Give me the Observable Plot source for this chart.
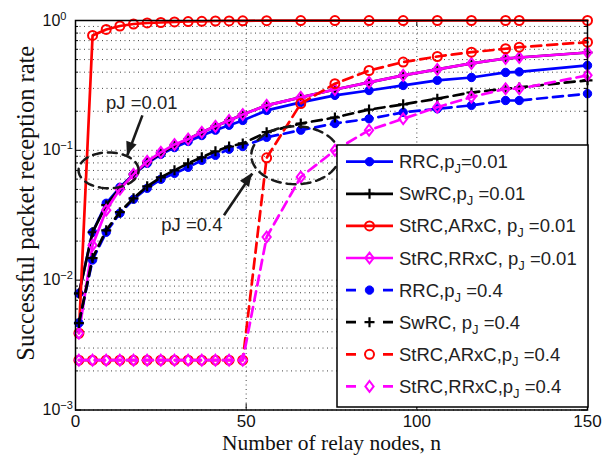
<!DOCTYPE html>
<html><head><meta charset="utf-8">
<script src="https://cdn.jsdelivr.net/npm/d3@7"></script>
<script src="https://cdn.jsdelivr.net/npm/@observablehq/plot@0.6"></script>
<style>body{margin:0;background:#fff}</style>
</head><body><div id="chart"></div>
<script>
// ---- data ----
const nodes = [1,5,9,13,17,21,25,29,33,37,41,45,49,56,66,76,86,96,106,116,126,130,150];
const rrc001  = [0.0079,0.0234,0.0391,0.0519,0.0653,0.0794,0.0932,0.105,0.117,0.130,0.143,0.156,0.170,0.203,0.234,0.265,0.289,0.316,0.346,0.364,0.398,0.402,0.451];
const swrc001 = [0.0079,0.0234,0.0378,0.0510,0.0653,0.0809,0.0948,0.109,0.122,0.138,0.153,0.170,0.189,0.222,0.256,0.294,0.334,0.378,0.420,0.467,0.510,0.519,0.567];
const arxc001 = [0.0039,0.767,0.853,0.907,0.940,0.957,0.965,0.974,0.982,0.985,0.991,0.993,0.995,0.997,0.998,0.999,0.999,0.999,1,1,1,1,1];
const rrxc001 = [0.0039,0.0186,0.0346,0.0501,0.0653,0.0823,0.0965,0.111,0.122,0.138,0.153,0.170,0.189,0.222,0.256,0.294,0.334,0.378,0.420,0.467,0.510,0.519,0.567];
const rrc04   = [0.00467,0.0143,0.0234,0.0328,0.0420,0.0510,0.0598,0.0665,0.0740,0.0838,0.0915,0.102,0.107,0.126,0.143,0.161,0.175,0.196,0.209,0.222,0.242,0.242,0.273];
const swrc04  = [0.00467,0.0148,0.0242,0.0334,0.0427,0.0528,0.0620,0.0702,0.0794,0.0884,0.0982,0.107,0.113,0.138,0.161,0.179,0.206,0.226,0.250,0.279,0.298,0.305,0.346];
const arxc04  = [0.00242,0.00242,0.00242,0.00242,0.00242,0.00242,0.00242,0.00242,0.00242,0.00242,0.00242,0.00242,0.00242,0.0876,0.229,0.326,0.412,0.478,0.528,0.570,0.606,0.623,0.681];
const rrxc04  = [0.00242,0.00242,0.00242,0.00242,0.00242,0.00242,0.00242,0.00242,0.00242,0.00242,0.00242,0.00242,0.00242,0.0215,0.0623,0.100,0.143,0.175,0.215,0.257,0.298,0.298,0.378];

const seriesValues = [rrc001, swrc001, arxc001, rrxc001, rrc04, swrc04, arxc04, rrxc04];
const legendLabels = [
  ["RRC,p","J","=0.01"],
  ["SwRC,p","J"," =0.01"],
  ["StRC,ARxC, p","J"," =0.01"],
  ["StRC,RRxC, p","J"," =0.01"],
  ["RRC,p","J"," =0.4"],
  ["SwRC, p","J"," =0.4"],
  ["StRC,ARxC,p","J"," =0.4"],
  ["StRC,RRxC,p","J"," =0.4"]
];
const xTicks = [0, 50, 100, 150];
const yTicks = [0.001, 0.01, 0.1, 1];
const xLabel = "Number of relay nodes, n";
const yLabel = "Successful packet reception rate";
const annotations = [
  {n: 19.4, v: 0.23, text: "pJ =0.01"},
  {n: 34.1, v: 0.0265, text: "pJ =0.4"}
];
const arrows = [
  {x1: 19.6, y1: 0.186, x2: 15.2, y2: 0.0916},
  {x1: 43.5, y1: 0.0316, x2: 51.8, y2: 0.0662}
];
// ellipse annotations: centre n, centre log10(v), radius in n, radius in decades
const ellipses = [
  {cx: 9.7, cy: -1.154, rx: 8.8, ry: 0.138},
  {cx: 64.4, cy: -1.038, rx: 12.9, ry: 0.223}
];

// ---- styles ----
const diamond = {draw(ctx, size){ const r = Math.sqrt(size/Math.PI); const h = r*1.2, w = r*0.92;
  ctx.moveTo(0,-h); ctx.lineTo(w,0); ctx.lineTo(0,h); ctx.lineTo(-w,0); ctx.closePath(); }};
const plus = {draw(ctx, size){ const r = Math.sqrt(size/Math.PI);
  ctx.moveTo(-r,0); ctx.lineTo(r,0); ctx.moveTo(0,-r); ctx.lineTo(0,r); }};
const styles = [
  {color:"#0000ff", dash:null,   symbol:"circle", fill:"#0000ff", r:4.2, sw:1},
  {color:"#000000", dash:null,   symbol:plus,     fill:"none",    r:5,   sw:2.2},
  {color:"#ff0000", dash:null,   symbol:"circle", fill:"none",    r:4.5, sw:2},
  {color:"#ff00ff", dash:null,   symbol:diamond,  fill:"none",    r:4.5, sw:2},
  {color:"#0000ff", dash:"10,6", symbol:"circle", fill:"#0000ff", r:4.2, sw:1},
  {color:"#000000", dash:"10,6", symbol:plus,     fill:"none",    r:5,   sw:2.2},
  {color:"#ff0000", dash:"10,6", symbol:"circle", fill:"none",    r:4.5, sw:2},
  {color:"#ff00ff", dash:"10,6", symbol:diamond,  fill:"none",    r:4.5, sw:2}
];

const W = 616, H = 455, mL = 75, mR = 29, mT = 20, mB = 45.5;
const plotW = W - mL - mR, plotH = H - mT - mB;

const mantissas = [1,2,3,4,5,6,7,8,9];
const gridY = [];
for (const d of [-3,-2,-1]) for (const m of mantissas) gridY.push(m*Math.pow(10,d));
gridY.push(1);
const minorY = gridY.filter(v => !yTicks.some(t => Math.abs(t - v) < 1e-12));

const ellipsePts = [];
ellipses.forEach((e, k) => {
  for (let i = 0; i <= 72; i++) {
    const t = i/72*2*Math.PI;
    ellipsePts.push({k, n: e.cx + e.rx*Math.cos(t), v: Math.pow(10, e.cy + e.ry*Math.sin(t))});
  }
});

const marks = [
  Plot.ruleY(gridY, {stroke:"#444", strokeWidth:1, strokeDasharray:"1,3.5"}),
  Plot.ruleX([50, 100], {stroke:"#444", strokeWidth:1, strokeDasharray:"1,3.5"}),
  // inward ticks
  Plot.tickY(yTicks, {y: d => d, insetRight: plotW - 6, stroke:"black"}),
  Plot.tickY(yTicks, {y: d => d, insetLeft: plotW - 6, stroke:"black"}),
  Plot.tickY(minorY, {y: d => d, insetRight: plotW - 3, stroke:"black"}),
  Plot.tickY(minorY, {y: d => d, insetLeft: plotW - 3, stroke:"black"}),
  Plot.tickX(xTicks, {x: d => d, insetTop: plotH - 6, stroke:"black"}),
  Plot.tickX(xTicks, {x: d => d, insetBottom: plotH - 6, stroke:"black"}),
  Plot.axisX({ticks: xTicks, tickSize: 0, tickPadding: 5, label: null, fontSize: 17}),
  Plot.axisY({ticks: yTicks, tickSize: 0, tickPadding: 6, label: null, fontSize: 16,
    tickFormat: d => String(Math.round(Math.log10(d))).replace("-", "\u2212")}),
  Plot.text([xLabel], {frameAnchor: "bottom", lineAnchor: "middle", textAnchor: "middle", dy: 33,
    fontFamily: "Liberation Serif", fontSize: 21.5, fill:"#111"}),
  Plot.text([yLabel], {frameAnchor: "left", textAnchor: "middle", lineAnchor: "middle", rotate: -90, dx: -49, dy: -12,
    fontFamily: "Liberation Serif", fontSize: 24.5, fill:"#111"})
];

seriesValues.forEach((vals, i) => {
  const s = styles[i];
  const rows = nodes.map((n, j) => ({n, v: vals[j]}));
  marks.push(Plot.line(rows, {x:"n", y:"v", stroke:s.color, strokeWidth:2.7, strokeDasharray:s.dash}));
  marks.push(Plot.dot(rows, {x:"n", y:"v", symbol:s.symbol, r:s.r, stroke:s.color, fill:s.fill, strokeWidth:s.sw}));
});

marks.push(
  Plot.line(ellipsePts, {x:"n", y:"v", z:"k", stroke:"#1a1a1a", strokeWidth:2.5, strokeDasharray:"9,6"}),
  Plot.link(arrows, {x1:"x1", y1:"y1", x2:"x2", y2:"y2", stroke:"#1a1a1a", strokeWidth:2.6}),
  Plot.text(annotations, {x:"n", y:"v", text:"text", fontSize:18.5, fill:"#222"}),
  Plot.frame({stroke:"black", strokeWidth:1.5})
);

const chart = Plot.plot({
  width: W, height: H, marginLeft: mL, marginRight: mR, marginTop: mT, marginBottom: mB,
  x: {domain: [0, 150]},
  y: {type: "log", domain: [0.001, 1]},
  style: {fontFamily: "Liberation Sans, Arial, sans-serif", fontSize: "16px", color: "#111", background: "white"},
  marks
});
document.getElementById("chart").appendChild(chart);

const svg = d3.select(chart);
const xs = chart.scale("x"), ys = chart.scale("y");

// filled arrow heads at the arrow tips, placed through the plot's scales
arrows.forEach(a => {
  const px1 = xs.apply(a.x1), py1 = ys.apply(a.y1), px2 = xs.apply(a.x2), py2 = ys.apply(a.y2);
  const ang = Math.atan2(py2 - py1, px2 - px1) * 180 / Math.PI;
  svg.append("path").attr("transform", `translate(${px2},${py2}) rotate(${ang})`)
    .attr("d", "M0,0L-13,-5.5L-13,5.5Z").attr("fill", "#1a1a1a");
});

// y tick labels as 10^k with superscript
svg.selectAll('[aria-label="y-axis tick label"] text').each(function() {
  const t = d3.select(this);
  const exp = t.text();
  t.text(null).attr("text-anchor", "start").attr("x", -27);
  t.append("tspan").text("10");
  t.append("tspan").attr("dy", "-0.55em").attr("font-size", "11px").text(exp);
});

// legend (inside the axes, bottom right)
const lg = svg.append("g").attr("font-family", "Liberation Sans, Arial, sans-serif").attr("text-anchor", "start");
lg.append("rect").attr("x", 337).attr("y", 145).attr("width", 251).attr("height", 262)
  .attr("fill", "white").attr("stroke", "black").attr("stroke-width", 1.5);
legendLabels.forEach((lab, i) => {
  const s = styles[i];
  const cy = 161.7 + 32.1*i;
  lg.append("line").attr("x1", 346).attr("x2", 393).attr("y1", cy).attr("y2", cy)
    .attr("stroke", s.color).attr("stroke-width", 2.7)
    .attr("stroke-dasharray", s.dash ? "10,27" : null);
  const sym = s.symbol === "circle" ? d3.symbolCircle : s.symbol;
  lg.append("path").attr("transform", `translate(369.5,${cy})`)
    .attr("d", d3.symbol(sym, Math.PI*s.r*s.r)())
    .attr("fill", s.fill).attr("stroke", s.color).attr("stroke-width", s.sw);
  const tx = lg.append("text").attr("x", 399).attr("y", cy + 6.5).attr("font-size", 18.5)
    .attr("text-anchor", "start").attr("fill", "#222");
  tx.append("tspan").text(lab[0]);
  tx.append("tspan").attr("dy", 5).attr("font-size", 13).text(lab[1]);
  tx.append("tspan").attr("dy", -5).text(lab[2]);
});
</script>
</body></html>
